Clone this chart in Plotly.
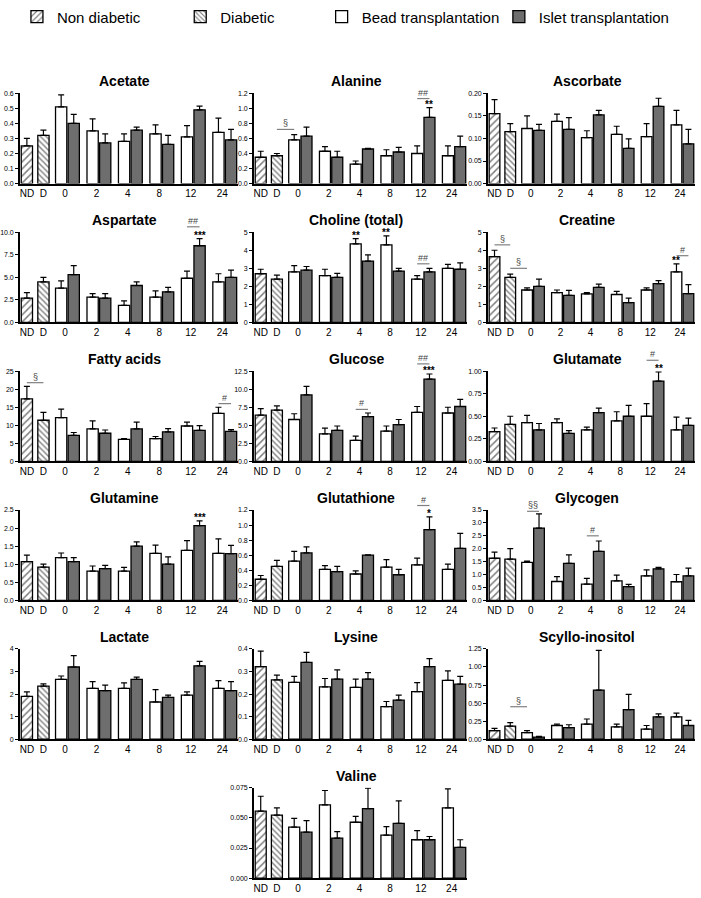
import plotly.graph_objects as go

# ---------------- data (mean, SEM) ----------------
times = ["0", "2", "4", "8", "12", "24"]
control_labels = ["ND", "D"]
legend_names = ["Non diabetic", "Diabetic", "Bead transplantation", "Islet transplantation"]

acetate_ctrl = [0.25, 0.32]
acetate_ctrl_err = [0.05, 0.035]
acetate_bead = [0.51, 0.35, 0.28, 0.33, 0.31, 0.34]
acetate_bead_err = [0.08, 0.08, 0.05, 0.06, 0.075, 0.095]
acetate_islet = [0.40, 0.27, 0.355, 0.26, 0.49, 0.29]
acetate_islet_err = [0.06, 0.06, 0.02, 0.06, 0.025, 0.07]

alanine_ctrl = [0.35, 0.37]
alanine_ctrl_err = [0.08, 0.03]
alanine_bead = [0.58, 0.43, 0.26, 0.37, 0.40, 0.37]
alanine_bead_err = [0.07, 0.06, 0.04, 0.08, 0.10, 0.13]
alanine_islet = [0.63, 0.35, 0.46, 0.42, 0.88, 0.49]
alanine_islet_err = [0.12, 0.08, 0.01, 0.06, 0.13, 0.14]

ascorbate_ctrl = [0.155, 0.115]
ascorbate_ctrl_err = [0.031, 0.018]
ascorbate_bead = [0.122, 0.138, 0.102, 0.109, 0.104, 0.130]
ascorbate_bead_err = [0.028, 0.016, 0.015, 0.018, 0.029, 0.032]
ascorbate_islet = [0.118, 0.120, 0.152, 0.078, 0.171, 0.088]
ascorbate_islet_err = [0.013, 0.026, 0.010, 0.021, 0.018, 0.032]

aspartate_ctrl = [2.7, 4.5]
aspartate_ctrl_err = [0.6, 0.5]
aspartate_bead = [3.8, 2.8, 1.9, 2.8, 4.9, 4.5]
aspartate_bead_err = [0.8, 0.4, 0.5, 0.7, 0.8, 0.9]
aspartate_islet = [5.3, 2.7, 4.1, 3.4, 8.5, 5.0]
aspartate_islet_err = [1.0, 0.5, 0.4, 0.5, 0.8, 0.8]

choline_ctrl = [2.7, 2.4]
choline_ctrl_err = [0.25, 0.22]
choline_bead = [2.8, 2.6, 4.35, 4.3, 2.4, 3.0]
choline_bead_err = [0.35, 0.35, 0.3, 0.5, 0.2, 0.22]
choline_islet = [2.9, 2.5, 3.4, 2.85, 2.8, 2.95]
choline_islet_err = [0.2, 0.22, 0.35, 0.15, 0.2, 0.35]

creatine_ctrl = [3.65, 2.5]
creatine_ctrl_err = [0.35, 0.18]
creatine_bead = [1.8, 1.65, 1.58, 1.55, 1.8, 2.8]
creatine_bead_err = [0.12, 0.15, 0.07, 0.17, 0.12, 0.45]
creatine_islet = [2.0, 1.5, 1.95, 1.1, 2.15, 1.6]
creatine_islet_err = [0.4, 0.28, 0.17, 0.25, 0.17, 0.5]

fatty_ctrl = [17.3, 11.4]
fatty_ctrl_err = [3.5, 2.2]
fatty_bead = [12.1, 9.0, 6.1, 6.3, 9.8, 13.3]
fatty_bead_err = [2.4, 2.2, 0.2, 0.6, 1.1, 1.7]
fatty_islet = [7.2, 7.8, 9.0, 8.2, 8.6, 8.3]
fatty_islet_err = [0.8, 0.9, 1.9, 0.9, 1.3, 0.5]

glucose_ctrl = [6.4, 7.1]
glucose_ctrl_err = [0.9, 0.6]
glucose_bead = [5.8, 3.8, 2.9, 4.2, 6.8, 6.7]
glucose_bead_err = [0.8, 0.8, 0.6, 0.7, 0.8, 0.8]
glucose_islet = [9.2, 4.3, 6.2, 5.1, 11.4, 7.6]
glucose_islet_err = [1.2, 0.6, 0.5, 0.7, 0.7, 1.0]

glutamate_ctrl = [0.33, 0.41]
glutamate_ctrl_err = [0.04, 0.09]
glutamate_bead = [0.43, 0.43, 0.35, 0.45, 0.50, 0.35]
glutamate_bead_err = [0.08, 0.04, 0.03, 0.10, 0.14, 0.14]
glutamate_islet = [0.35, 0.31, 0.54, 0.50, 0.89, 0.40]
glutamate_islet_err = [0.07, 0.03, 0.05, 0.12, 0.10, 0.08]

glutamine_ctrl = [1.07, 0.92]
glutamine_ctrl_err = [0.18, 0.08]
glutamine_bead = [1.18, 0.81, 0.81, 1.30, 1.38, 1.30]
glutamine_bead_err = [0.13, 0.14, 0.10, 0.23, 0.27, 0.40]
glutamine_islet = [1.07, 0.88, 1.50, 1.00, 2.07, 1.29]
glutamine_islet_err = [0.11, 0.09, 0.12, 0.20, 0.13, 0.23]

glutathione_ctrl = [0.28, 0.45]
glutathione_ctrl_err = [0.05, 0.08]
glutathione_bead = [0.52, 0.41, 0.35, 0.44, 0.47, 0.41]
glutathione_bead_err = [0.13, 0.05, 0.04, 0.10, 0.09, 0.07]
glutathione_islet = [0.63, 0.38, 0.60, 0.34, 0.94, 0.69]
glutathione_islet_err = [0.08, 0.07, 0.005, 0.07, 0.17, 0.20]

glycogen_ctrl = [1.63, 1.60]
glycogen_ctrl_err = [0.24, 0.40]
glycogen_bead = [1.47, 0.73, 0.63, 0.75, 0.95, 0.72]
glycogen_bead_err = [0.05, 0.19, 0.22, 0.23, 0.23, 0.28]
glycogen_islet = [2.80, 1.43, 1.90, 0.53, 1.22, 0.95]
glycogen_islet_err = [0.55, 0.33, 0.40, 0.09, 0.06, 0.30]

lactate_ctrl = [1.9, 2.35]
lactate_ctrl_err = [0.2, 0.1]
lactate_bead = [2.65, 2.25, 2.25, 1.65, 1.95, 2.25]
lactate_bead_err = [0.15, 0.3, 0.25, 0.55, 0.15, 0.35]
lactate_islet = [3.2, 2.15, 2.65, 1.85, 3.25, 2.15]
lactate_islet_err = [0.5, 0.25, 0.1, 0.1, 0.2, 0.4]

lysine_ctrl = [0.322, 0.263]
lysine_ctrl_err = [0.068, 0.021]
lysine_bead = [0.252, 0.232, 0.230, 0.144, 0.211, 0.261]
lysine_bead_err = [0.026, 0.037, 0.036, 0.023, 0.040, 0.042]
lysine_islet = [0.340, 0.266, 0.266, 0.173, 0.322, 0.244]
lysine_islet_err = [0.045, 0.041, 0.029, 0.022, 0.035, 0.034]

scyllo_ctrl = [0.12, 0.18]
scyllo_ctrl_err = [0.03, 0.05]
scyllo_bead = [0.09, 0.19, 0.21, 0.17, 0.14, 0.31]
scyllo_bead_err = [0.03, 0.02, 0.07, 0.04, 0.05, 0.05]
scyllo_islet = [0.03, 0.16, 0.68, 0.41, 0.31, 0.19]
scyllo_islet_err = [0.01, 0.04, 0.55, 0.21, 0.04, 0.07]

valine_ctrl = [0.0556, 0.0524]
valine_ctrl_err = [0.0124, 0.0060]
valine_bead = [0.0423, 0.0608, 0.0464, 0.0357, 0.0319, 0.0584]
valine_bead_err = [0.0073, 0.0120, 0.0049, 0.0071, 0.0076, 0.0158]
valine_islet = [0.0382, 0.0333, 0.0578, 0.0455, 0.0319, 0.0256]
valine_islet_err = [0.0095, 0.0054, 0.0169, 0.0186, 0.0027, 0.0063]

# panel: title, data, y-axis max, tick step, tick format
panels = [
    ("Acetate", acetate_ctrl, acetate_ctrl_err, acetate_bead, acetate_bead_err, acetate_islet, acetate_islet_err, 0.6, 0.1, ".1f"),
    ("Alanine", alanine_ctrl, alanine_ctrl_err, alanine_bead, alanine_bead_err, alanine_islet, alanine_islet_err, 1.2, 0.2, ".1f"),
    ("Ascorbate", ascorbate_ctrl, ascorbate_ctrl_err, ascorbate_bead, ascorbate_bead_err, ascorbate_islet, ascorbate_islet_err, 0.20, 0.05, ".2f"),
    ("Aspartate", aspartate_ctrl, aspartate_ctrl_err, aspartate_bead, aspartate_bead_err, aspartate_islet, aspartate_islet_err, 10.0, 2.5, ".1f"),
    ("Choline (total)", choline_ctrl, choline_ctrl_err, choline_bead, choline_bead_err, choline_islet, choline_islet_err, 5, 1, "d"),
    ("Creatine", creatine_ctrl, creatine_ctrl_err, creatine_bead, creatine_bead_err, creatine_islet, creatine_islet_err, 5, 1, "d"),
    ("Fatty acids", fatty_ctrl, fatty_ctrl_err, fatty_bead, fatty_bead_err, fatty_islet, fatty_islet_err, 25, 5, "d"),
    ("Glucose", glucose_ctrl, glucose_ctrl_err, glucose_bead, glucose_bead_err, glucose_islet, glucose_islet_err, 12.5, 2.5, ".1f"),
    ("Glutamate", glutamate_ctrl, glutamate_ctrl_err, glutamate_bead, glutamate_bead_err, glutamate_islet, glutamate_islet_err, 1.0, 0.25, ".2f"),
    ("Glutamine", glutamine_ctrl, glutamine_ctrl_err, glutamine_bead, glutamine_bead_err, glutamine_islet, glutamine_islet_err, 2.5, 0.5, ".1f"),
    ("Glutathione", glutathione_ctrl, glutathione_ctrl_err, glutathione_bead, glutathione_bead_err, glutathione_islet, glutathione_islet_err, 1.2, 0.2, ".1f"),
    ("Glycogen", glycogen_ctrl, glycogen_ctrl_err, glycogen_bead, glycogen_bead_err, glycogen_islet, glycogen_islet_err, 3.5, 0.5, ".1f"),
    ("Lactate", lactate_ctrl, lactate_ctrl_err, lactate_bead, lactate_bead_err, lactate_islet, lactate_islet_err, 4, 1, "d"),
    ("Lysine", lysine_ctrl, lysine_ctrl_err, lysine_bead, lysine_bead_err, lysine_islet, lysine_islet_err, 0.4, 0.1, ".1f"),
    ("Scyllo-inositol", scyllo_ctrl, scyllo_ctrl_err, scyllo_bead, scyllo_bead_err, scyllo_islet, scyllo_islet_err, 1.25, 0.25, ".2f"),
    ("Valine", valine_ctrl, valine_ctrl_err, valine_bead, valine_bead_err, valine_islet, valine_islet_err, 0.075, 0.025, ".3f"),
]

# significance marks: ("line", text, from_bar, to_bar, y) or ("star", text, bar)
significance = {
    "Alanine": [("line", "§", "D", "B0", 0.72), ("line", "##", "B12", "I12", 1.13), ("star", "**", "I12")],
    "Aspartate": [("line", "##", "B12", "I12", 10.6), ("star", "***", "I12")],
    "Choline (total)": [("star", "**", "B4"), ("star", "**", "B8"), ("line", "##", "B12", "I12", 3.25)],
    "Creatine": [("line", "§", "ND", "D", 4.3), ("line", "§", "D", "B0", 3.0), ("star", "**", "B24"),
                 ("line", "#", "B24", "I24", 3.7)],
    "Fatty acids": [("line", "§", "ND", "D", 21.8), ("line", "#", "B24", "I24", 16.0)],
    "Glucose": [("line", "#", "B4", "I4", 7.2), ("line", "##", "B12", "I12", 13.5), ("star", "***", "I12")],
    "Glutamate": [("star", "**", "I12"), ("line", "#", "B12", "I12", 1.12)],
    "Glutamine": [("star", "***", "I12")],
    "Glutathione": [("star", "*", "I12"), ("line", "#", "B12", "I12", 1.26)],
    "Glycogen": [("line", "§§", "B0", "I0", 3.45), ("line", "#", "B4", "I4", 2.5)],
    "Scyllo-inositol": [("line", "§", "D", "B0", 0.45)],
}

# ---------------- geometry / style ----------------
W, H = 701, 898
COLS = [(17, 236), (252, 466), (487, 695)]
XMIN, XMAX = -0.42, 12.75
BAR_W = 0.68
GREY = "#6e6e6e"
TICK_FONT = "Liberation Sans Narrow, Arial Narrow, Liberation Sans, Arial"
MAIN_FONT = "Liberation Sans, Arial, sans-serif"

pos = {"ND": 0.0, "D": 1.0}
pair_center = {}
for k, t in enumerate(times):
    c = 2.45 + 1.9 * k
    pair_center[t] = c
    pos["B" + t] = c - 0.38
    pos["I" + t] = c + 0.38

tickvals = [pos["ND"], pos["D"]] + [pair_center[t] - 0.15 for t in times]
ticktext = control_labels + times

fig = go.Figure()
layout_axes = {}
annotations = []
shapes = []


def err_dict(errs):
    return dict(type="data", symmetric=False, array=errs, arrayminus=[0] * len(errs),
                color="black", thickness=1.2, width=3)


def xdom(v):
    return (v - XMIN) / (XMAX - XMIN)


for i, (title, ctrl, ctrl_err, bead, bead_err, islet, islet_err, ymax, dtick, fmt) in enumerate(panels):
    n = i + 1
    r, c = (i // 3, i % 3) if i < 15 else (5, 1)
    x0, x1 = COLS[c]
    top, bot = 90 + 140 * r, 181 + 140 * r
    xname = "x" if n == 1 else f"x{n}"
    yname = "y" if n == 1 else f"y{n}"
    xkey = "xaxis" if n == 1 else f"xaxis{n}"
    ykey = "yaxis" if n == 1 else f"yaxis{n}"

    layout_axes[xkey] = dict(domain=[x0 / W, x1 / W], anchor=yname, range=[XMIN, XMAX],
                             tickmode="array", tickvals=tickvals, ticktext=ticktext,
                             showline=True, linecolor="black", linewidth=1.5, ticks="",
                             showgrid=False, zeroline=False, fixedrange=True,
                             tickfont=dict(size=10, family=TICK_FONT, color="black"))
    layout_axes[ykey] = dict(domain=[1 - bot / H, 1 - top / H], anchor=xname, range=[0, ymax],
                             tick0=0, dtick=dtick, tickformat=fmt,
                             showline=True, linecolor="black", linewidth=1.5,
                             ticks="outside", ticklen=3, tickwidth=1, tickcolor="black",
                             showgrid=False, zeroline=False, fixedrange=True,
                             tickfont=dict(size=7, family=TICK_FONT, color="black"))

    show = (i == 0)
    common = dict(xaxis=xname, yaxis=yname, width=BAR_W, cliponaxis=False, hoverinfo="skip")
    fig.add_trace(go.Bar(x=[pos["ND"]], y=[ctrl[0]], error_y=err_dict([ctrl_err[0]]),
                         marker=dict(color="white", line=dict(color="black", width=1.3),
                                     pattern=dict(shape="/", size=5, solidity=0.3, fgcolor="black", bgcolor="white")),
                         name=legend_names[0], showlegend=show, legend="legend", **common))
    fig.add_trace(go.Bar(x=[pos["D"]], y=[ctrl[1]], error_y=err_dict([ctrl_err[1]]),
                         marker=dict(color="white", line=dict(color="black", width=1.3),
                                     pattern=dict(shape="\\", size=4, solidity=0.35, fgcolor="black", bgcolor="white")),
                         name=legend_names[1], showlegend=show, legend="legend2", **common))
    fig.add_trace(go.Bar(x=[pos["B" + t] for t in times], y=bead, error_y=err_dict(bead_err),
                         marker=dict(color="white", line=dict(color="black", width=1.3)),
                         name=legend_names[2], showlegend=show, legend="legend3", **common))
    fig.add_trace(go.Bar(x=[pos["I" + t] for t in times], y=islet, error_y=err_dict(islet_err),
                         marker=dict(color=GREY, line=dict(color="black", width=1.3)),
                         name=legend_names[3], showlegend=show, legend="legend4", **common))

    # panel title
    annotations.append(dict(text=f"<b>{title}</b>", xref="paper", yref="paper",
                            x=((x0 + x1) / 2 - 4) / W, y=1 - (top - 12) / H,
                            xanchor="center", yanchor="middle", showarrow=False,
                            font=dict(size=14, family=MAIN_FONT, color="black")))

    # significance marks (domain-referenced so they may sit above the axis top)
    tops = {"ND": ctrl[0] + ctrl_err[0], "D": ctrl[1] + ctrl_err[1]}
    for k, t in enumerate(times):
        tops["B" + t] = bead[k] + bead_err[k]
        tops["I" + t] = islet[k] + islet_err[k]
    xref_d, yref_d = f"{xname} domain", f"{yname} domain"
    for mark in significance.get(title, []):
        if mark[0] == "line":
            _, txt, a, b, yl = mark
            shapes.append(dict(type="line", xref=xref_d, yref=yref_d,
                               x0=xdom(pos[a]), x1=xdom(pos[b]), y0=yl / ymax, y1=yl / ymax,
                               line=dict(color="#808080", width=1.2)))
            annotations.append(dict(text=txt, xref=xref_d, yref=yref_d,
                                    x=xdom((pos[a] + pos[b]) / 2), y=yl / ymax,
                                    xanchor="center", yanchor="bottom", showarrow=False, yshift=-1,
                                    font=dict(size=9, family=TICK_FONT, color="#444444")))
        else:
            _, txt, b = mark
            annotations.append(dict(text=f"<b>{txt}</b>", xref=xref_d, yref=yref_d,
                                    x=xdom(pos[b]), y=tops[b] / ymax,
                                    xanchor="center", yanchor="bottom", showarrow=False, yshift=-4,
                                    font=dict(size=10, family=MAIN_FONT, color="black")))

legend_common = dict(orientation="h", yanchor="middle", xanchor="left", y=1 - 13 / H,
                     bgcolor="rgba(0,0,0,0)", font=dict(size=15, family=MAIN_FONT, color="black"),
                     itemclick=False, itemdoubleclick=False)
legend_text_start = [56, 220, 362, 540]

fig.update_layout(
    width=W, height=H,
    margin=dict(l=0, r=0, t=0, b=0),
    paper_bgcolor="white", plot_bgcolor="white",
    barmode="overlay",
    showlegend=True,
    hovermode=False,
    legend=dict(x=(legend_text_start[0] - 42) / W, **legend_common),
    legend2=dict(x=(legend_text_start[1] - 42) / W, **legend_common),
    legend3=dict(x=(legend_text_start[2] - 42) / W, **legend_common),
    legend4=dict(x=(legend_text_start[3] - 42) / W, **legend_common),
    annotations=annotations,
    shapes=shapes,
    **layout_axes,
)

fig.write_html("out.html", config={"displayModeBar": False},
               post_script="document.body.style.margin='0';document.body.style.overflow='hidden';")
